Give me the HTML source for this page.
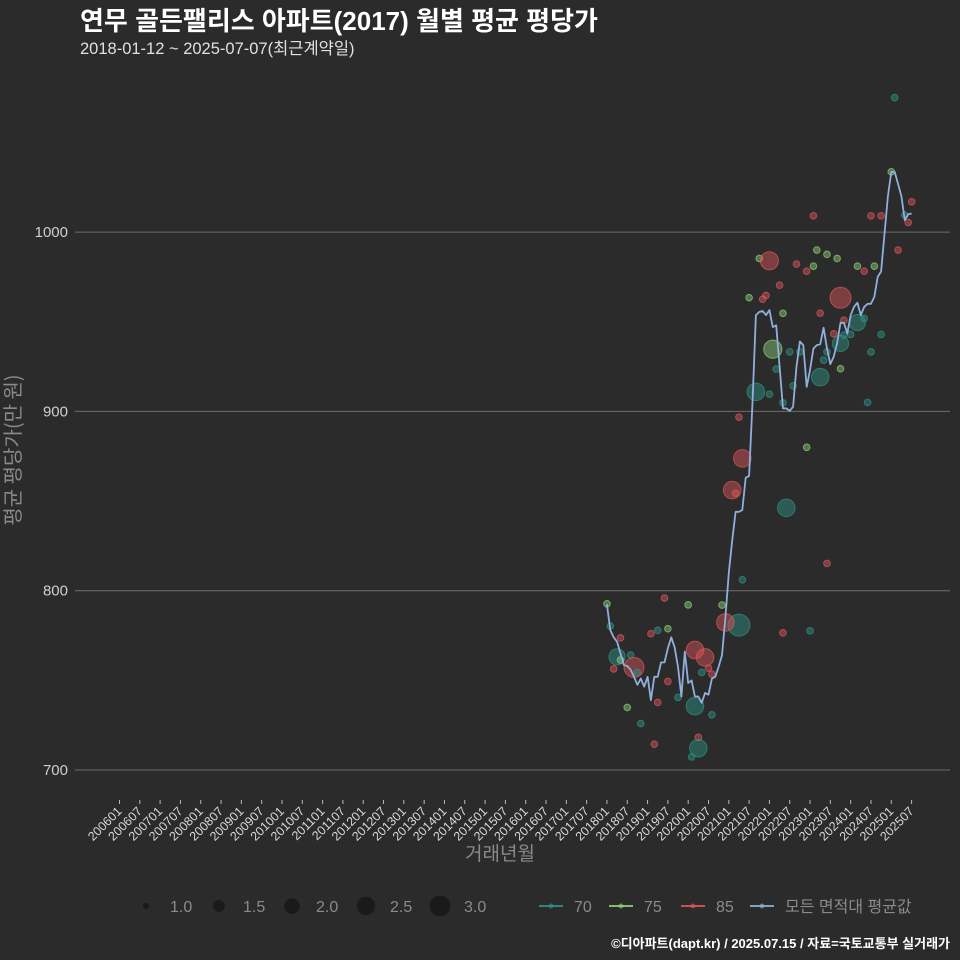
<!DOCTYPE html>
<html><head><meta charset="utf-8">
<style>
html,body{margin:0;padding:0;background:#2b2b2b;}
svg{display:block;font-family:"Liberation Sans","Noto Sans CJK KR",sans-serif;}
</style></head>
<body>
<svg id="chart" width="960" height="960" viewBox="0 0 960 960" xmlns="http://www.w3.org/2000/svg">
<rect x="0" y="0" width="960" height="960" fill="#2b2b2b"/>
<text x="80" y="30" fill="#ffffff" font-size="26" font-weight="bold">연무 골든팰리스 아파트(2017) 월별 평균 평당가</text>
<text x="80" y="54" fill="#e0e0e0" font-size="16.5">2018-01-12 ~ 2025-07-07(최근계약일)</text>
<g id="grid"></g>
<g id="yticks"></g>
<g id="xticks"></g>
<g id="points"></g>
<g id="line"></g>
<g transform="translate(20 450) rotate(-90)">
<text x="0" y="0" fill="#8a8a8a" font-size="20" text-anchor="middle" style="font-family:'Noto Sans CJK KR',sans-serif">평균 평당가(만 원)</text>
</g>
<text x="500" y="860" fill="#8a8a8a" font-size="19" text-anchor="middle">거래년월</text>
<g id="legend"></g>
<text x="950" y="948" fill="#ffffff" font-size="13" font-weight="bold" text-anchor="end">©디아파트(dapt.kr) / 2025.07.15 / 자료=국토교통부 실거래가</text>
</svg>
<script>
// ---- data ----
const yTicks = [700, 800, 900, 1000];
const xTickLabels = [];
for (let y = 2006; y <= 2025; y++) { xTickLabels.push(y + "01"); xTickLabels.push(y + "07"); }
// monthly average, starting 2018-01
const avgStartLabel = "201801";
const avgValues = [792.5,778,774,771.5,765,758.5,758,756,752,747.5,751,746.5,752,739,752,752,760,760,768,774,768.5,757.5,741,766,748.5,750,741,741,737.5,743,742,751,752,757.5,764,785,810,828,844,844,845,863,864,905,953.7,955.5,956,953.7,956.5,947,948,925,901.7,901.7,900.3,902.6,925,939,937,913.7,923,935,937,937.5,946.6,935,926.4,930.5,938,949.4,949.4,943.5,953.7,958.3,960.6,953.7,958.3,960,960,964,975,978,999,1020,1033.6,1033.6,1027,1020,1006.7,1010,1010.4];
// scatter: month offset from 2018-01, value, size, area group
const ptMonth = [84,90,61,78,81,89,88,86,45,48,56,59,61,62,65,68,74,76,79,51,42,46,47,69,52,63,76,74,70,67,70,72,81,49,69,54,57,65,78,50,64,69,63,55,44,48,52,77,39,59,40,37,38,53,65,40,34,39,35,52,60,0,1,4,13,15,18,17,24,3,4,7,8,2,9,26,29,30,28,31,18,6,15,10,26,31,14,27,27,25,21,85];
const ptValue = [1033.6,1016.9,1009.1,1009.1,1009.1,1005.4,1009.5,990,985.3,984,982.2,978.2,981,990,987.6,985.3,981,978.2,981,970.4,963.4,962.6,964.7,963.4,954.7,954.8,951.9,949.6,950.9,943.3,942.6,942.9,942.9,934.7,937.9,933.2,933.2,933.2,933.2,923.6,928.6,923.8,919.1,914.3,910.9,909.6,904.8,905,896.8,880,873.8,856.1,854.4,846.2,815.2,806.1,792,780.8,782.3,776.5,777.6,792.7,780.3,773.7,776,777.9,778.8,795.9,792.1,763.1,761.3,764.1,757.2,756.4,754.4,766.9,762.8,756.8,754.4,753.5,749.4,734.9,737.7,725.9,735.6,730.8,714.4,718.2,712.1,707.3,740.5,1075];
const ptSize = [1,1,1,1,1,1,1,1,1,2.3,1,1,1,1,1,1,1,1,1,1,1,1,1,2.8,1,1,1,2,1,1,1,1,1,2.3,2,1,1,1,1,1,1,1,2.2,1,2.2,1,1,1,1,1,2.2,2.2,1,2.2,1,1,1,3,2.2,1,1,1,1,1,1,1,1,1,1,2,1,1,2.6,1,1,2.2,2.2,1,1,1,1,1,1,1,2.2,1,1,1,2.2,1,1,1];
const ptGroup = ["75","85","85","85","85","85","70","85","75","85","85","85","75","75","75","75","75","85","75","85","75","85","85","85","75","85","70","70","85","85","70","70","70","75","70","70","70","70","70","70","70","75","70","70","70","70","70","70","85","75","85","85","85","70","85","70","75","70","85","85","70","75","70","85","85","70","75","85","75","70","75","70","85","85","70","85","85","85","70","85","85","75","85","70","70","70","85","85","70","70","70","70"];
const legendSizes = [1.0, 1.5, 2.0, 2.5, 3.0];
const groupNames = ["70", "75", "85"];

// ---- scales ----
const NS = "http://www.w3.org/2000/svg";
const X0 = 119.5, DX = 3.385; // px per month from 2006-01
function xMonth(m) { return X0 + m * DX; }
function labelToMonth(lbl) { return (parseInt(lbl.slice(0,4)) - 2006) * 12 + parseInt(lbl.slice(4)) - 1; }
function yScale(v) { return 770 - (v - 700) * 1.793; }
function rScale(s) { return 11 * Math.sqrt(Math.max(s - 0.8, 0.02) / 2.2); }
const colors = { "70": "#2f9488", "75": "#8ed27a", "85": "#e0575b" };
function mk(tag, attrs, parent) { const e = document.createElementNS(NS, tag); for (const k in attrs) e.setAttribute(k, attrs[k]); parent.appendChild(e); return e; }

const grid = document.getElementById('grid');
const yg = document.getElementById('yticks');
yTicks.forEach(v => {
  const l = mk('line', {x1: 75, x2: 950, y1: yScale(v), y2: yScale(v), stroke: '#6e6e6e', 'stroke-width': 1}, grid);
  
  
  const t = mk('text', {x: 68, y: yScale(v) + 5, fill: '#cfcfcf', 'font-size': 15, 'text-anchor': 'end'}, yg);
  t.textContent = v;
  
  
});

const xg = document.getElementById('xticks');
xTickLabels.forEach(lbl => {
  const x = xMonth(labelToMonth(lbl));
  const tk = mk('line', {x1: x, x2: x, y1: 800, y2: 804, stroke: '#bbbbbb', 'stroke-width': 1}, xg);
  
  
  const t = mk('text', {x: x + 3, y: 812, fill: '#d8d8d8', 'font-size': 12.5, 'text-anchor': 'end', transform: 'rotate(-45 ' + (x + 3) + ' 812)'}, xg);
  t.textContent = lbl;
  
  
});

const start = labelToMonth(avgStartLabel);
const pg = document.getElementById('points');
ptMonth.forEach((m, i) => {
  const c = colors[ptGroup[i]];
  const cx = xMonth(start + m), cy = yScale(ptValue[i]);
  const el = mk('circle', {cx: cx, cy: cy, r: rScale(ptSize[i]), fill: c, 'fill-opacity': 0.45, stroke: c, 'stroke-opacity': 0.7, 'stroke-width': 1}, pg);
  
  
});

const lg = document.getElementById('line');
const d = avgValues.map((v, i) => (i ? 'L' : 'M') + xMonth(start + i).toFixed(1) + ' ' + yScale(v).toFixed(1)).join(' ');
const path = mk('path', {d: d, fill: 'none', stroke: '#8fb0dc', 'stroke-width': 1.8, 'stroke-linejoin': 'round'}, lg);



// legend
const leg = document.getElementById('legend');
const sizeX = [146, 219, 292, 366, 440];
legendSizes.forEach((s, i) => {
  const c = mk('circle', {cx: sizeX[i], cy: 906, r: Math.max(rScale(s) * 0.95, 1.6), fill: '#1a1a1a'}, leg);
  
  
  const t = mk('text', {x: sizeX[i] + 24, y: 912, fill: '#8a8a8a', 'font-size': 16}, leg);
  t.textContent = s.toFixed(1);
  
  
});
const keyItems = groupNames.map(g => ({label: g, color: colors[g]})).concat([{label: '모든 면적대 평균값', color: '#8fb0dc'}]);
const keyX = [551, 621, 693, 762];
keyItems.forEach((k, i) => {
  const x = keyX[i];
  const ln = mk('line', {x1: x - 12, x2: x + 12, y1: 906, y2: 906, stroke: k.color, 'stroke-width': 1.8}, leg);
  
  
  const dot = mk('circle', {cx: x, cy: 906, r: 2.5, fill: k.color, 'fill-opacity': 0.6}, leg);
  
  
  const t = mk('text', {x: x + 23, y: 912, fill: '#8a8a8a', 'font-size': 16}, leg);
  t.textContent = k.label;
  
  
});
</script>
</body></html>
